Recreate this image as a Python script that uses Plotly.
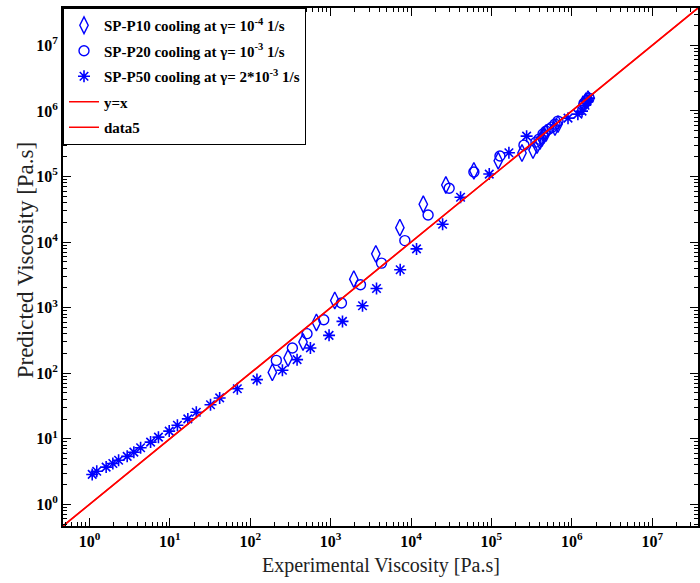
import plotly.graph_objects as go

# ---------------- data ----------------
p10_x = [188, 295, 453, 665, 1125, 1940, 3645, 7260, 14200, 27100, 60500, 121600,
         240000, 329000, 369000, 402000, 426000, 451000, 478000, 618000, 673000,
         1380000, 1500000, 1590000]
p10_y = [103, 171, 299, 595, 1288, 2720, 6610, 16600, 37800, 74300, 122000, 174000,
         228000, 253000, 301000, 347000, 385000, 428000, 459000, 567000, 629000,
         1270000, 1410000, 1510000]

p20_x = [211, 334, 508, 820, 1362, 2350, 4290, 8370, 16300, 29800, 60500, 127700,
         254000, 358000, 391000, 438000, 478000, 520000, 567000, 618000, 673000,
         1420000, 1550000, 1640000]
p20_y = [157, 243, 401, 655, 1175, 2230, 4780, 10540, 25900, 66100, 117000, 205000,
         301000, 335000, 372000, 444000, 493000, 529000, 567000, 629000, 700000,
         1310000, 1460000, 1570000]

p50_x = [1.08, 1.23, 1.61, 1.95, 2.30, 2.94, 3.56, 4.32, 5.75, 7.2, 9.8, 12.4, 16.7,
         21.3, 32, 41.6, 69, 121, 251, 382, 560, 955, 1403, 2490, 3720, 7330, 11700,
         24700, 41300, 94000, 165000, 274000, 897000, 1190000, 1340000, 1460000,
         1550000, 1640000]
p50_y = [2.86, 3.2, 3.7, 4.2, 4.7, 5.4, 6.25, 7.3, 8.9, 10.6, 13.1, 16.1, 20.1,
         25.4, 33, 42, 58, 80, 111, 161, 243, 378, 617, 1069, 1960, 3780, 7870,
         18700, 48200, 109000, 230000, 413000, 777000, 894000, 993000, 1220000,
         1410000, 1570000]

diag = [0.468, 3.72e7]          # y = x reference line end points
data5 = [0.468, 3.72e7]

decades = [0, 1, 2, 3, 4, 5, 6, 7]
tick_vals = [10 ** d for d in decades]
tick_text = ["10<sup>%d</sup>" % d for d in decades]
axis_range = [-0.33, 7.57]       # log10 units

x_title = "Experimental Viscosity [Pa.s]"
y_title = "Predicted Viscosity [Pa.s]"

names = [
    "SP-P10 cooling at <b>γ</b>= 10<sup>-4</sup> 1/s",
    "SP-P20 cooling at <b>γ</b>= 10<sup>-3</sup> 1/s",
    "SP-P50 cooling at <b>γ</b>= 2*10<sup>-3</sup> 1/s",
    "y=x",
    "data5",
]

BLUE = "#0000FF"
RED = "#FF0000"

minor_vals = [k * 10 ** d for d in range(-1, 8) for k in range(2, 10)]

fig = go.Figure()
fig.add_trace(go.Scatter(x=p10_x, y=p10_y, mode="markers", name=names[0], legendgroup="a",
                         marker=dict(symbol="diamond-tall-open", size=12, color=BLUE,
                                     line=dict(color=BLUE, width=1.4))))
fig.add_trace(go.Scatter(x=p20_x, y=p20_y, mode="markers", name=names[1], legendgroup="b",
                         marker=dict(symbol="circle-open", size=10, color=BLUE,
                                     line=dict(color=BLUE, width=1.4))))
fig.add_trace(go.Scatter(x=p50_x, y=p50_y, mode="markers", name=names[2], legendgroup="c",
                         marker=dict(symbol="asterisk-open", size=10, color=BLUE,
                                     line=dict(color=BLUE, width=1.6))))
fig.add_trace(go.Scatter(x=diag, y=diag, mode="lines", name=names[3], legendgroup="d",
                         line=dict(color=RED, width=1.5)))
fig.add_trace(go.Scatter(x=data5, y=data5, mode="lines", name=names[4], legendgroup="e",
                         line=dict(color=RED, width=1.5)))

axis_common = dict(
    type="log", range=axis_range, tickmode="array", tickvals=tick_vals,
    ticktext=tick_text, ticks="inside", ticklen=8, tickwidth=1, tickcolor="black",
    showline=True, linecolor="black", linewidth=2, mirror="allticks",
    showgrid=False, zeroline=False, automargin=False,
    tickfont=dict(family="Liberation Serif", size=16, color="black", weight="bold"),
    minor=dict(ticks="inside", ticklen=4, tickwidth=1, tickcolor="black",
               tickmode="array", tickvals=minor_vals, showgrid=False),
)

fig.update_xaxes(**axis_common)
fig.update_yaxes(**axis_common)

fig.add_annotation(text=x_title, xref="paper", yref="paper", x=0.5, y=-0.0772,
                   xanchor="center", yanchor="middle", showarrow=False,
                   font=dict(family="Liberation Serif", size=20, color="#222"))
fig.add_annotation(text=y_title, xref="paper", yref="paper", x=-0.0598, y=0.513,
                   xanchor="center", yanchor="middle", showarrow=False, textangle=-90,
                   font=dict(family="Liberation Serif", size=23, color="#222"))

fig.update_layout(
    width=700, height=583,
    margin=dict(l=63, r=2, t=8, b=57, autoexpand=False),
    paper_bgcolor="white", plot_bgcolor="white",
    showlegend=True,
    legend=dict(x=0, y=1, xanchor="left", yanchor="top",
                bgcolor="white", bordercolor="black", borderwidth=1,
                font=dict(family="Liberation Serif", size=15, color="black", weight="bold"),
                itemwidth=30, tracegroupgap=3),
)

fig.write_html("out.html", config={"displayModeBar": False},
               post_script="document.body.style.margin='0';document.body.style.overflow='hidden';")
